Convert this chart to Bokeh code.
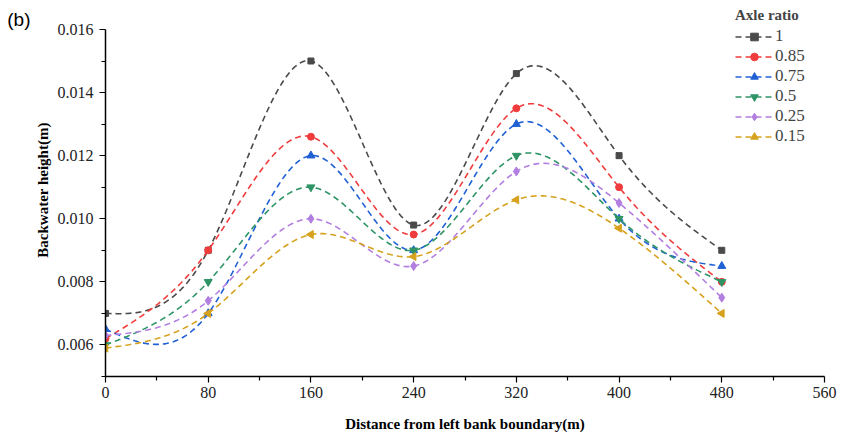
import numpy as np
from bokeh.plotting import figure
from bokeh.models import (FixedTicker, Legend, LegendItem, Range1d, PrintfTickFormatter,
                          LinearAxis, CustomJSTickFormatter)
from bokeh.embed import file_html
from bokeh.resources import INLINE

# ---- data ----
distance = [0, 80, 160, 240, 320, 400, 480]
ratio_labels = ["1", "0.85", "0.75", "0.5", "0.25", "0.15"]
h_1 = [0.0070, 0.0090, 0.0150, 0.0098, 0.0146, 0.0120, 0.0090]
h_085 = [0.0062, 0.0090, 0.0126, 0.0095, 0.0135, 0.0110, 0.0080]
h_075 = [0.0065, 0.0070, 0.0120, 0.0090, 0.0130, 0.0100, 0.0085]
h_05 = [0.0060, 0.0080, 0.0110, 0.0090, 0.0120, 0.0100, 0.0080]
h_025 = [0.0063, 0.0074, 0.0100, 0.0085, 0.0115, 0.0105, 0.0075]
h_015 = [0.0059, 0.0070, 0.0095, 0.0088, 0.0106, 0.0097, 0.0070]
x_ticks = [0, 80, 160, 240, 320, 400, 480, 560]
y_ticks = [0.006, 0.008, 0.010, 0.012, 0.014, 0.016]
panel_tag = "(b)"

series = [h_1, h_085, h_075, h_05, h_025, h_015]
colors = ["#4a4a4a", "#f03c3c", "#2060d4", "#2e9466", "#b27ee0", "#d6a21e"]
markers = ["square", "circle", "triangle", "inverted_triangle", "diamond", "triangle"]
angles = [0, 0, 0, 0, 0, np.pi / 2]
sizes = [6, 7, 8, 8, 9, 8]


def natural_spline(xs, ys, n=400):
    xs = np.asarray(xs, float)
    ys = np.asarray(ys, float)
    k = len(xs)
    h = np.diff(xs)
    A = np.zeros((k, k))
    b = np.zeros(k)
    A[0, 0] = 1
    A[-1, -1] = 1
    for i in range(1, k - 1):
        A[i, i - 1] = h[i - 1]
        A[i, i] = 2 * (h[i - 1] + h[i])
        A[i, i + 1] = h[i]
        b[i] = 6 * ((ys[i + 1] - ys[i]) / h[i] - (ys[i] - ys[i - 1]) / h[i - 1])
    M = np.linalg.solve(A, b)
    xx = np.linspace(xs[0], xs[-1], n)
    idx = np.clip(np.searchsorted(xs, xx) - 1, 0, k - 2)
    x0, x1 = xs[idx], xs[idx + 1]
    hh = x1 - x0
    t0 = x1 - xx
    t1 = xx - x0
    yy = (M[idx] * t0 ** 3 / (6 * hh) + M[idx + 1] * t1 ** 3 / (6 * hh)
          + (ys[idx] / hh - M[idx] * hh / 6) * t0
          + (ys[idx + 1] / hh - M[idx + 1] * hh / 6) * t1)
    return xx, yy


frame_top, frame_bottom = 3, 376
px_per_unit = 31.55 / 0.001
y_start = 0.005
y_end = y_start + (frame_bottom - frame_top) / px_per_unit

p = figure(width=841, height=439, output_backend="svg", toolbar_location=None,
           x_range=Range1d(0, 560), y_range=Range1d(y_start, y_end),
           min_border_left=105, min_border_right=17, min_border_top=frame_top,
           min_border_bottom=439 - frame_bottom)
p.outline_line_color = None
p.grid.visible = False
p.background_fill_color = "white"

serif = "Liberation Serif"

xa = p.xaxis[0]
xa.ticker = FixedTicker(ticks=x_ticks, minor_ticks=[40 + 80 * i for i in range(7)])
xa.axis_label = "Distance from left bank boundary(m)"
ya = p.yaxis[0]
ya.ticker = FixedTicker(ticks=y_ticks, minor_ticks=[0.005, 0.007, 0.009, 0.011, 0.013, 0.015])
ya.formatter = PrintfTickFormatter(format="%.3f")
ya.axis_label = "Backwater height(m)"
ya.bounds = (0.005, 0.016)

for ax in (xa, ya):
    ax.axis_line_color = "black"
    ax.axis_line_width = 1.5
    ax.major_tick_line_color = "black"
    ax.minor_tick_line_color = "black"
    ax.major_tick_line_width = 1.2
    ax.minor_tick_line_width = 1.2
    ax.major_tick_in = 0
    ax.major_tick_out = 6
    ax.minor_tick_in = 0
    ax.minor_tick_out = 4
    ax.major_label_text_font = serif
    ax.major_label_text_font_size = "16px"
    ax.major_label_text_color = "#222222"
    ax.axis_label_text_font = serif
    ax.axis_label_text_font_style = "bold"
    ax.axis_label_text_font_size = "15px"
    ax.axis_label_text_color = "black"

xa.major_label_standoff = 4
xa.axis_label_standoff = 15
ya.major_label_standoff = 6
ya.axis_label_standoff = 4

# panel tag "(b)" shown as the single label of an outer, line-less left axis
tag_axis = LinearAxis(ticker=FixedTicker(ticks=[0.0163], minor_ticks=[]),
                      formatter=CustomJSTickFormatter(code="return '%s';" % panel_tag),
                      axis_line_color=None, major_tick_line_color=None,
                      minor_tick_line_color=None, major_tick_in=0, major_tick_out=0,
                      major_label_standoff=1, major_label_orientation="horizontal",
                      major_label_text_font="Liberation Sans",
                      major_label_text_font_size="19px", major_label_text_color="black")
p.add_layout(tag_axis, "left")

items = []
for ys, lab, c, m, a, s in zip(series, ratio_labels, colors, markers, angles, sizes):
    xx, yy = natural_spline(distance, ys)
    ln = p.line(xx, yy, line_color=c, line_width=1.6, line_dash="6 4")
    sc = p.scatter(distance, ys, marker=m, angle=a, size=s, fill_color=c, line_color=c)
    items.append(LegendItem(label=lab, renderers=[ln, sc]))

legend = Legend(items=items, location=(630, 230), title="Axle ratio",
                title_text_font=serif, title_text_font_style="bold",
                title_text_font_size="15px", title_standoff=2,
                label_text_font=serif, label_text_font_size="17px",
                label_height=19, glyph_height=19, glyph_width=38,
                label_standoff=2, spacing=0, padding=4,
                background_fill_alpha=0, border_line_color=None)
p.add_layout(legend)

open("out.html", "w").write(file_html(p, INLINE))
